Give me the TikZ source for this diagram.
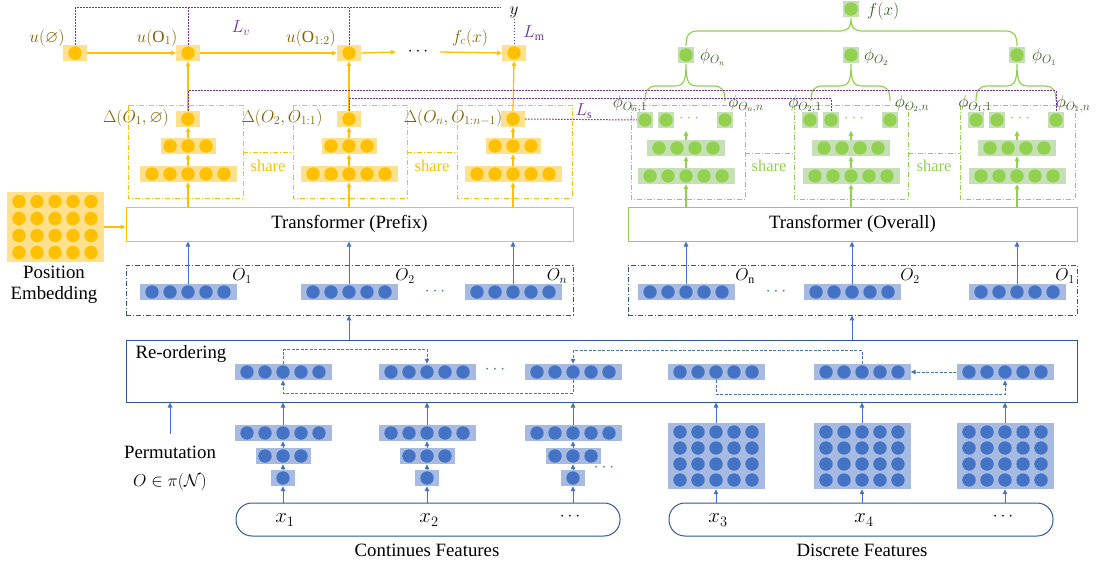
\documentclass[tikz,border=0pt]{standalone}
\usepackage{amssymb}
\usepackage{fontspec}
\setmainfont{Liberation Serif}
\usetikzlibrary{arrows.meta}
\definecolor{yd}{HTML}{FFC000}
\definecolor{yf}{HTML}{FFE08C}
\definecolor{yt}{HTML}{7F6000}
\definecolor{gd}{HTML}{92D050}
\definecolor{gf}{HTML}{C5E0B4}
\definecolor{gt}{HTML}{385723}
\definecolor{bd}{HTML}{4472C4}
\definecolor{bf}{HTML}{A7BBE2}
\definecolor{bb}{HTML}{2F5597}
\definecolor{pp}{HTML}{7030A0}
\newcommand\dotrow[6]{%
  \node[#6bg, minimum width=#5pt] (#1) at (#2,#3) {};
  \foreach \k in {1,...,#4}{\fill[#6dot] ({#2+(\k-(#4+1)/2)*18},#3) circle[radius=6.7pt];}}
\newcommand\onedot[5]{%
  \node[#5bg, minimum width=#4pt] (#1) at (#2,#3) {};
  \fill[#5dot] (#1) circle[radius=6.7pt];}
\newcommand\dotgrid[7]{%
  \node[#5bg, minimum width=97pt, minimum height=#6pt] (#1) at (#2,#3) {};
  \foreach \r in {1,...,#4}{\foreach \k in {1,...,5}{\fill[#5dot] ({#2+(\k-3)*18},{#3+(\r-(#4+1)/2)*#7}) circle[radius=6.7pt];}}}
\newcommand\brc[6]{\draw[gline] (#1,#4) .. controls (#1,{#5+4}) and ({#1+3},#5) .. ({#1+12},#5) -- ({#2-12},#5) .. controls ({#2-3},#5) and (#2,{#5-3}) .. (#2,#6) .. controls (#2,{#5-3}) and ({#2+3},#5) .. ({#2+12},#5) -- ({#3-12},#5) .. controls ({#3-3},#5) and (#3,{#5+4}) .. (#3,#4);}
\begin{document}
\begin{tikzpicture}[x=1pt,y=-1pt,font=\fontsize{17}{20}\selectfont,
  ybg/.style={fill=yf, inner sep=0pt, minimum height=16pt},
  ydot/.style={fill=yd},
  gbg/.style={fill=gf, inner sep=0pt, minimum height=16pt},
  gdot/.style={fill=gd},
  bbg/.style={fill=bf, inner sep=0pt, minimum height=16pt},
  bdot/.style={fill=bd},
  tip/.style={-{Triangle[length=5pt,width=4.5pt]}},
  yarr/.style={draw=yd, line width=1.3pt, tip},
  garr/.style={draw=gd, line width=1.1pt, tip},
  barr/.style={draw=bd, line width=1pt, tip},
  bdash/.style={draw=bd, line width=1pt, dash pattern=on 3pt off 1.5pt, tip},
  gline/.style={draw=gd, line width=1.2pt},
  pdot/.style={draw=pp, line width=1pt, dash pattern=on 1.5pt off 1.5pt},
  ddash/.style={line width=0.9pt, dash pattern=on 5pt off 2pt on 1pt off 2pt},
  ylab/.style={text=yt, inner sep=1pt},
  glab/.style={text=gt, inner sep=1pt},
  plab/.style={text=pp, inner sep=1pt},
  big/.style={font=\fontsize{18.8}{22}\selectfont},
  xlab/.style={font=\fontsize{20}{22}\selectfont},
  sharet/.style={font=\fontsize{16.5}{18}\selectfont, inner sep=0pt}]
\useasboundingbox (0,0) rectangle (1099,564);

% ---------- dash-dot blocks (prefix / overall) ----------
\draw[ddash, draw=yd] (128,105) rectangle (243,198);
\draw[ddash, draw=yd] (293,105) rectangle (407,198);
\draw[ddash, draw=yd] (457,105) rectangle (572,198);
\draw[ddash, draw=yd] (243,152) -- (293,152);
\draw[ddash, draw=yd] (407,152) -- (457,152);
\node[sharet, text=yd] (sh1) at (268,166) {share};
\node[sharet, text=yd] (sh2) at (432,166) {share};
\draw[ddash, draw=gd] (631,105) rectangle (745,199);
\draw[ddash, draw=gd] (794,105) rectangle (908,199);
\draw[ddash, draw=gd] (960,105) rectangle (1075,199);
\draw[ddash, draw=gd] (745,153) -- (794,153);
\draw[ddash, draw=gd] (908,153) -- (960,153);
\node[sharet, text=gd] (sh3) at (769,166) {share};
\node[sharet, text=gd] (sh4) at (934,166) {share};

% ---------- transformers ----------
\node[big, draw=yd, line width=1pt, minimum width=447pt, minimum height=34pt, inner sep=0pt] (tp) at (349.5,224) {Transformer (Prefix)};
\node[big, draw=gd, line width=1pt, minimum width=449pt, minimum height=34pt, inner sep=0pt] (tg) at (852.5,224) {Transformer (Overall)};

% ---------- position embedding ----------
\dotgrid{pe}{55}{227}{4}{y}{70}{17}
\node[big] (pos) at (54,272) {Position};
\node[big] (emb) at (54,295) {Embedding};
\draw[yarr] (pe.east) -- (tp.west |- pe.east);

% ---------- top row u ----------
\onedot{u0}{75}{53}{24}{y}
\onedot{u1}{188}{53}{24}{y}
\onedot{u2}{349}{53}{24}{y}
\onedot{u3}{514}{53}{24}{y}
\node[minimum width=44pt, inner sep=0pt] (dt) at (418,52) {$\cdots$};
\draw[yarr] (u0.east) -- (u1.west);
\draw[yarr] (u1.east) -- (u2.west);
\draw[yarr] (u2.east) -- (dt.west);
\draw[yarr] (dt.east) -- (u3.west);
\node[ylab] (lu0) at (47,38) {$u(\varnothing)$};
\node[ylab] (lu1) at (157,38) {$u(\mathrm{O}_1)$};
\node[ylab] (lu2) at (311,38) {$u(\mathrm{O}_{1:2})$};
\node[ylab] (lfc) at (470,38) {$f_c(x)$};

% ---------- prefix stacks ----------
\foreach \n/\x in {1/188,2/349,3/513}{
  \onedot{D\n}{\x}{119}{24}{y}
  \dotrow{Yb\n}{\x}{146}{3}{55}{y}
  \dotrow{Yc\n}{\x}{174}{5}{97}{y}
  \draw[yarr] (tp.north -| Yc\n) -- (Yc\n.south);
  \draw[yarr] (Yc\n.north) -- (Yb\n.south);
  \draw[yarr] (Yb\n.north) -- (D\n.south);
}
\draw[yarr] (D1.north) -- (u1.south);
\draw[yarr] (D2.north) -- (u2.south);
\draw[yarr] (D3.north) -- (u3.south);
\node[ylab] (ld1) at (136,118) {$\Delta(O_1,\varnothing)$};
\node[ylab] (ld2) at (282,118) {$\Delta(O_2,O_{1:1})$};
\node[ylab] (ld3) at (453,118) {$\Delta(O_n,O_{1:n-1})$};

% ---------- overall stacks ----------
\foreach \n/\x in {1/686,2/851,3/1017}{
  \onedot{ga\n}{\x-41}{120}{16}{g}
  \onedot{gb\n}{\x-20}{120}{16}{g}
  \onedot{gn\n}{\x+39}{120}{16}{g}
  \node[text=gd, inner sep=0pt] (gd\n) at (\x+3,119) {$\cdots$};
  \dotrow{Gb\n}{\x}{148}{4}{78}{g}
  \dotrow{Gc\n}{\x}{176}{5}{97}{g}
  \draw[garr] (tg.north -| Gc\n) -- (Gc\n.south);
  \draw[garr] (Gc\n.north) -- (Gb\n.south);
  \draw[garr] (Gb\n.north) -- ++(0,-9);
}
\onedot{fx}{851}{9}{16}{g}
\onedot{phN}{686}{55}{16}{g}
\onedot{ph2}{851}{55}{16}{g}
\onedot{ph1}{1017}{55}{16}{g}
\node[glab, anchor=west] (lfx) at (866,11) {$f(x)$};
\node[glab, anchor=west] (lphN) at (699,57) {$\phi_{O_n}$};
\node[glab, anchor=west] (lph2) at (863,57) {$\phi_{O_2}$};
\node[glab, anchor=west] (lph1) at (1031,57) {$\phi_{O_1}$};
\brc{686}{851}{1017}{46}{31}{18}
\brc{645}{686}{725}{101}{86}{64}
\brc{811}{851}{890}{101}{86}{64}
\brc{976}{1017}{1056}{101}{86}{64}
\node[glab] at (630,104) {$\phi_{O_n,1}$};
\node[glab] at (746,104) {$\phi_{O_n,n}$};
\node[glab] at (805,104) {$\phi_{O_2,1}$};
\node[glab] at (912,104) {$\phi_{O_2,n}$};
\node[glab] at (975,104) {$\phi_{O_1,1}$};
\node[glab] at (1073,104) {$\phi_{O_1,n}$};

% ---------- purple losses ----------
\node[inner sep=1pt] (ylb) at (514,12) {$y$};
\coordinate (ty) at (0,8);
\draw[pdot] (u0.north) |- ([xshift=-8pt]ylb.west |- ty);
\draw[pdot] (u1.north) -- (u1.north |- ty);
\draw[pdot] (u2.north) -- (u2.north |- ty);
\draw[pdot] (ylb.south) -- (u3.north);
\coordinate (lA) at (0,91);
\coordinate (lB) at (0,99);
\draw[pdot] (D1.north) |- (gn3.north |- lA) -- (gn3.north);
\draw[pdot] (D2.north) |- (gb2.north |- lB) -- (gb2.north);
\draw[pdot] (D3.east) -- (ga1.west);
\node[plab] (lv) at (241,28) {$L_v$};
\node[plab] (lm) at (534,33) {$L_\mathrm{m}$};
\node[plab] (ls) at (584,111) {$L_\mathrm{s}$};

% ---------- ordered embeddings ----------
\node[draw=bb, ddash, minimum width=447pt, minimum height=50pt, inner sep=0pt] (obL) at (349.5,290) {};
\node[draw=bb, ddash, minimum width=449pt, minimum height=50pt, inner sep=0pt] (obR) at (852.5,290) {};
\foreach \n/\x in {1/188,2/349,3/513}{
  \dotrow{oL\n}{\x}{292}{5}{97}{b}
  \draw[barr] (oL\n.north) -- (tp.south -| oL\n);
}
\foreach \n/\x in {1/686,2/852,3/1017}{
  \dotrow{oR\n}{\x}{292}{5}{97}{b}
  \draw[barr] (oR\n.north) -- (tg.south -| oR\n);
}
\node (o1) at (242,276) {$O_1$};
\node (o2) at (405,276) {$O_2$};
\node (on) at (557,276) {$O_n$};
\node (pn) at (745,276) {$O_\mathrm{n}$};
\node (p2) at (910,276) {$O_2$};
\node (p1) at (1065,276) {$O_1$};
\node[text=bd] (odL) at (435,292) {$\cdots$};
\node[text=bd] (odR) at (776,292) {$\cdots$};

% ---------- re-ordering ----------
\node[draw=bb, line width=1pt, minimum width=951pt, minimum height=62pt, inner sep=0pt] (ro) at (601.5,371) {};
\node[big, anchor=west] (rol) at (132,354) {Re-ordering};
\draw[barr] (ro.north -| oL2) -- (obL.south -| oL2);
\draw[barr] (ro.north -| oR2) -- (obR.south -| oR2);
\dotrow{r1}{283}{372}{5}{97}{b}
\dotrow{r2}{427}{372}{5}{97}{b}
\dotrow{r3}{573}{372}{5}{97}{b}
\dotrow{r4}{716}{372}{5}{97}{b}
\dotrow{r5}{862}{372}{5}{97}{b}
\dotrow{r6}{1005}{372}{5}{97}{b}
\node[text=bd] (rdots) at (495,370) {$\cdots$};
\draw[bdash] (r1.north) -- ++(0,-14) -| (r2.north);
\draw[bdash] (r5.north) -- ++(0,-13) -| (r3.north);
\draw[bdash] (r3.south) -- ++(0,13) -| (r1.south);
\draw[bdash] (r4.south) -- ++(0,14) -| (r6.south);
\draw[bdash] (r6.west) -- (r5.east);

% ---------- permutation ----------
\node[big] (perm) at (170,452) {Permutation};
\node[big] (pi) at (170,482) {$O\in\pi(\mathcal{N})$};
\coordinate (pa) at (170,434);
\draw[barr] (pa) -- (ro.south -| pa);

% ---------- feature encoders ----------
\node[draw=bb, line width=1pt, rounded corners=16pt, minimum width=384pt, minimum height=33pt, inner sep=0pt] (cf) at (428,519.5) {};
\node[draw=bb, line width=1pt, rounded corners=16pt, minimum width=384pt, minimum height=33pt, inner sep=0pt] (df) at (861,519.5) {};
\foreach \n/\x in {1/283,2/427,3/573}{
  \dotrow{ca\n}{\x}{433}{5}{97}{b}
  \dotrow{cb\n}{\x}{456}{3}{55}{b}
  \onedot{cc\n}{\x}{478}{24}{b}
  \draw[barr] (cf.north -| cc\n) -- (cc\n.south);
  \draw[barr] (cc\n.north) -- (cb\n.south);
  \draw[barr] (cb\n.north) -- (ca\n.south);
  \draw[barr] (ca\n.north) -- (ro.south -| ca\n);
}
\node[text=bd] (cdots) at (604,468) {$\cdots$};
\foreach \n/\x in {4/716,5/862,6/1005}{
  \dotgrid{dg\n}{\x}{456}{4}{b}{66}{16}
  \draw[barr] (df.north -| dg\n) -- (dg\n.south);
  \draw[barr] (dg\n.north) -- (ro.south -| dg\n);
}
\node[xlab] (x1) at (285,520) {$x_1$};
\node[xlab] (x2) at (429,520) {$x_2$};
\node (x5) at (570,517) {$\cdots$};
\node[xlab] (x3) at (718,520) {$x_3$};
\node[xlab] (x4) at (864,520) {$x_4$};
\node (x6) at (1003,517) {$\cdots$};
\node[big] (cfl) at (427,550) {Continues Features};
\node[big] (dfl) at (862,550) {Discrete Features};
\end{tikzpicture}
\end{document}
